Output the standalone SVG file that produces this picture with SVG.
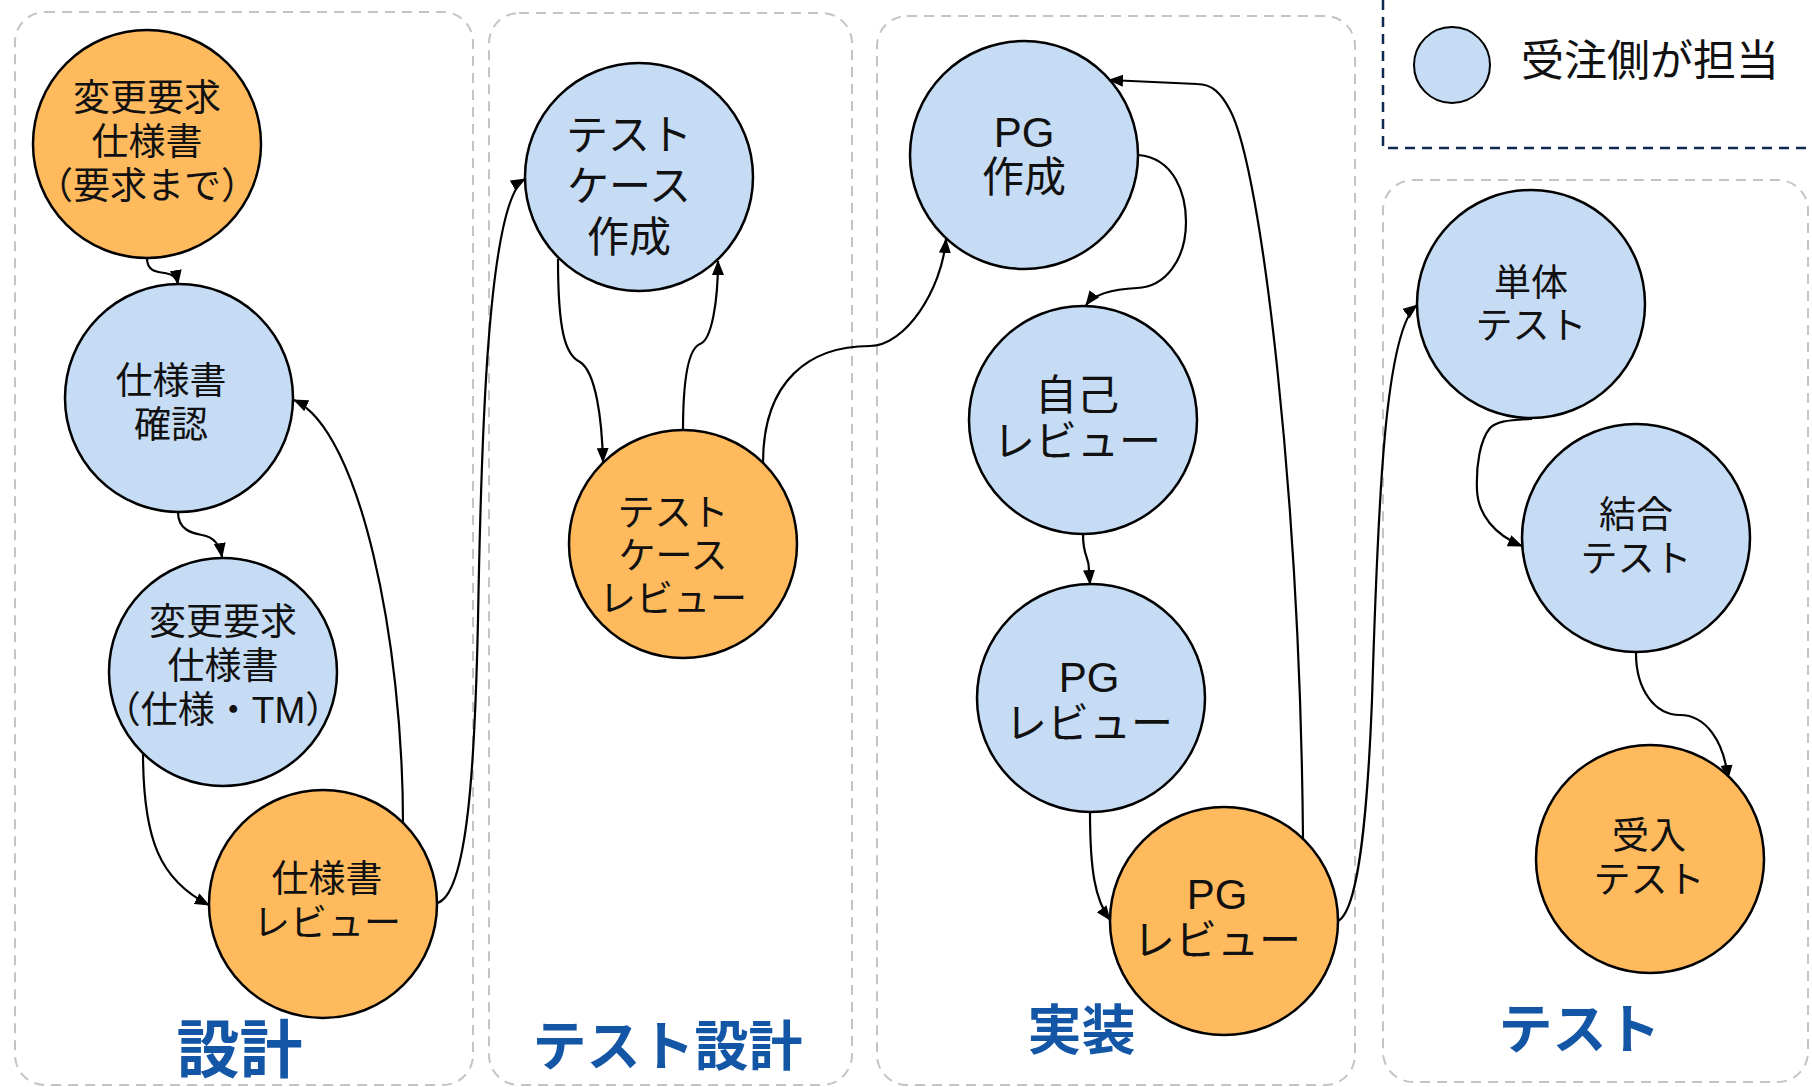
<svg xmlns="http://www.w3.org/2000/svg" width="1812" height="1087" viewBox="0 0 1812 1087">
<defs>
<style>
.grp{fill:none;stroke:#c4c4c4;stroke-width:2;stroke-dasharray:10 7}
.leg{fill:none;stroke:#0f2a50;stroke-width:2.5;stroke-dasharray:10 7}
.b{fill:#c6dcf5;stroke:#000;stroke-width:2.5}
.o{fill:#ffba5e;stroke:#000;stroke-width:2.5}
.t{font-family:"Liberation Sans","Noto Sans CJK JP",sans-serif;font-size:37px;fill:#111;text-anchor:middle}
.t2{font-size:42px}
.t3{font-size:42px}
.lbl{font-family:"Noto Sans CJK JP",sans-serif;font-weight:bold;fill:#1456a6;text-anchor:middle;font-size:54px}
.e{fill:none;stroke:#000;stroke-width:2.2;marker-end:url(#arr)}
</style>
<marker id="arr" markerWidth="15" markerHeight="12" refX="14" refY="6" orient="auto" markerUnits="userSpaceOnUse">
<path d="M0,0 L15,6 L0,12 z" fill="#000"/>
</marker>
</defs>
<rect width="1812" height="1087" fill="#fff"/>

<g id="groups">
<rect class="grp" x="15" y="12" width="458" height="1073" rx="30"/>
<rect class="grp" x="489" y="13" width="363" height="1072" rx="30"/>
<rect class="grp" x="877" y="16" width="478" height="1069" rx="30"/>
<rect class="grp" x="1383" y="180" width="425" height="902" rx="30"/>
<text class="lbl" x="239.5" y="1072" style="font-size:63px">設計</text>
<text class="lbl" x="667.5" y="1066">テスト設計</text>
<text class="lbl" x="1081.5" y="1050">実装</text>
<text class="lbl" x="1579.5" y="1049">テスト</text>
</g>

<g id="legend">
<path class="leg" d="M1383,0 L1383,148 L1812,148"/>
<circle class="b" cx="1452" cy="65" r="38" style="stroke-width:2"/>
<text class="t" x="1521" y="75.5" style="text-anchor:start;font-size:43px">受注側が担当</text>
</g>

<g id="connectors">
<path class="e" d="M147,258 C147,272 158,272 165,273 C172,274 177,278 178,284"/>
<path class="e" d="M178,512 C178,530 192,533 202,535 C214,537 220,545 222,557"/>
<path class="e" d="M143,752 C143,840 160,880 209,905"/>
<path class="e" d="M403,824 C403,640 360,430 294,400"/>
<path class="e" d="M437,903 C468,895 475,760 478,620 C481,450 487,200 525,179"/>
<path class="e" d="M558,259 C558,330 565,355 580,362 C596,372 602,420 603,462"/>
<path class="e" d="M683,431 C683,370 690,348 700,344 C712,340 718,300 718,261"/>
<path class="e" d="M763,463 C763,380 810,346 870,346 C905,346 942,290 946,239"/>
<path class="e" d="M1138,155 C1175,158 1186,195 1186,222 C1186,260 1165,287 1137,288 C1115,289 1095,293 1086,305"/>
<path class="e" d="M1303,838 C1300,500 1262,170 1230,110 C1221,93 1212,84 1197,84 L1109,80"/>
<path class="e" d="M1083,534 C1083,558 1089,555 1089,570 L1090,584"/>
<path class="e" d="M1090,812 C1090,870 1095,900 1110,920"/>
<path class="e" d="M1338,921 C1360,910 1368,800 1372,700 C1378,500 1385,330 1417,305"/>
<path class="e" d="M1532,419 C1505,420 1496,422 1490,428 C1480,440 1476,465 1477,490 C1478,515 1495,535 1522,546"/>
<path class="e" d="M1636,653 C1636,690 1655,715 1680,715 C1705,715 1724,740 1728,779"/>
</g>

<g id="n1"><circle class="o" cx="147" cy="144" r="114"/>
<text class="t" x="147" y="110.5">変更要求</text><text class="t" x="147" y="154.5">仕様書</text><text class="t" x="147" y="198.5">（要求まで）</text></g>
<g id="n2"><circle class="b" cx="179" cy="398" r="114"/>
<text class="t" x="171" y="393.5">仕様書</text><text class="t" x="171" y="437.5">確認</text></g>
<g id="n3"><circle class="b" cx="223" cy="672" r="114"/>
<text class="t" x="223" y="634.5">変更要求</text><text class="t" x="223" y="678.5">仕様書</text><text class="t" x="223" y="722.5">（仕様・TM）</text></g>
<g id="n4"><circle class="o" cx="323" cy="904" r="114"/>
<text class="t" x="327" y="891.5">仕様書</text><text class="t" x="327" y="935.5">レビュー</text></g>
<g id="n5"><circle class="b" cx="639" cy="177" r="114"/>
<text class="t t3" x="629" y="150">テスト</text><text class="t t3" x="629" y="201">ケース</text><text class="t t3" x="629" y="252">作成</text></g>
<g id="n6"><circle class="o" cx="683" cy="544" r="114"/>
<text class="t" x="673" y="525.5">テスト</text><text class="t" x="673" y="568.5">ケース</text><text class="t" x="673" y="611.5">レビュー</text></g>
<g id="n7"><circle class="b" cx="1024" cy="155" r="114"/>
<text class="t t2" x="1024" y="147">PG</text><text class="t t2" x="1024" y="192">作成</text></g>
<g id="n8"><circle class="b" cx="1083" cy="420" r="114"/>
<text class="t t2" x="1077" y="410">自己</text><text class="t t2" x="1077" y="456">レビュー</text></g>
<g id="n9"><circle class="b" cx="1091" cy="698" r="114"/>
<text class="t t2" x="1089" y="692">PG</text><text class="t t2" x="1089" y="738">レビュー</text></g>
<g id="n10"><circle class="o" cx="1224" cy="921" r="114"/>
<text class="t t2" x="1217" y="909">PG</text><text class="t t2" x="1217" y="955">レビュー</text></g>
<g id="n11"><circle class="b" cx="1531" cy="304" r="114"/>
<text class="t" x="1531" y="295.5">単体</text><text class="t" x="1531" y="338.5">テスト</text></g>
<g id="n12"><circle class="b" cx="1636" cy="538" r="114"/>
<text class="t" x="1636" y="527.5">結合</text><text class="t" x="1636" y="571.5">テスト</text></g>
<g id="n13"><circle class="o" cx="1650" cy="859" r="114"/>
<text class="t" x="1649" y="848.5">受入</text><text class="t" x="1649" y="892.5">テスト</text></g>
</svg>
